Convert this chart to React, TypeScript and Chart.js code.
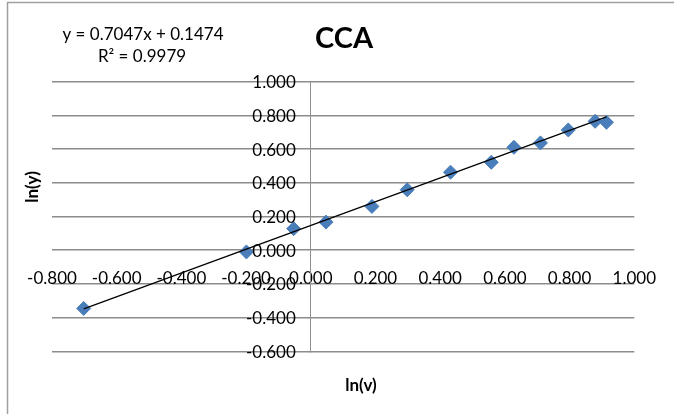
import React, { useEffect, useRef } from "react";
import { Chart, registerables } from "chart.js";

Chart.register(...registerables);

// ---- data ----
const lnV: number[] = [-0.702, -0.199, -0.053, 0.047, 0.189, 0.298, 0.432, 0.558, 0.628, 0.71, 0.796, 0.879, 0.914];
const lnY: number[] = [-0.345, -0.01, 0.128, 0.167, 0.26, 0.359, 0.463, 0.522, 0.611, 0.637, 0.714, 0.765, 0.759];

const TITLE = "CCA";
const X_TITLE = "ln(v)";
const Y_TITLE = "ln(y)";
const SLOPE = 0.7047;
const INTERCEPT = 0.1474;
const R2 = 0.9979;

const X_MIN = -0.8;
const X_MAX = 1.0;
const Y_MIN = -0.6;
const Y_MAX = 1.0;
const STEP = 0.2;

const FONT = "Lato";

const fmt = (v: any) => {
  const n = Number(v);
  return (Math.abs(n) < 1e-9 ? 0 : n).toFixed(3);
};

export default function App() {
  const ref = useRef<HTMLCanvasElement | null>(null);

  useEffect(() => {
    const canvas = ref.current;
    if (!canvas) return;

    const points = lnV.map((x, i) => ({ x, y: lnY[i] }));
    const xLo = Math.min(...lnV);
    const xHi = Math.max(...lnV);
    const trend = [
      { x: xLo, y: SLOPE * xLo + INTERCEPT },
      { x: xHi, y: SLOPE * xHi + INTERCEPT },
    ];

    const textPlugin = {
      id: "texts",
      beforeDraw(chart: any) {
        const ctx = chart.ctx;
        ctx.save();
        ctx.fillStyle = "#ffffff";
        ctx.fillRect(0, 0, chart.width, chart.height);
        ctx.strokeStyle = "#a0a0a0";
        ctx.lineWidth = 1.5;
        ctx.strokeRect(7.5, 2.5, 720, 520);
        ctx.restore();
      },
      afterDraw(chart: any) {
        const ctx = chart.ctx;
        const xs = chart.scales.x;
        const ys = chart.scales.y;
        ctx.save();
        ctx.fillStyle = "#000000";
        // y tick labels, placed beside the crossing axis
        ctx.font = `17px ${FONT}`;
        ctx.textAlign = "right";
        ctx.textBaseline = "middle";
        const axisX = xs.getPixelForValue(0);
        ys.ticks.forEach((t: any) => {
          ctx.fillText(fmt(t.value), axisX - 15, ys.getPixelForValue(t.value) + 1);
        });
        ctx.textAlign = "center";
        ctx.font = `bold 29px ${FONT}`;
        ctx.fillText(TITLE, 344, 39);
        ctx.font = `17px ${FONT}`;
        ctx.fillText(`y = ${SLOPE.toFixed(4)}x + ${INTERCEPT.toFixed(4)}`, 143, 35);
        ctx.fillText(`R² = ${R2.toFixed(4)}`, 142, 57);
        ctx.font = `bold 17px ${FONT}`;
        ctx.fillText(X_TITLE, 361, 386);
        ctx.translate(33, 187);
        ctx.rotate(-Math.PI / 2);
        ctx.fillText(Y_TITLE, 0, 0);
        ctx.restore();
      },
    };

    const chart = new Chart(canvas, {
      type: "scatter",
      data: {
        datasets: [
          {
            type: "line",
            label: "trend",
            data: trend,
            borderColor: "#000000",
            borderWidth: 1.3,
            pointRadius: 0,
            showLine: true,
            fill: false,
            order: 0,
          } as any,
          {
            label: "data",
            data: points,
            pointStyle: "rectRot",
            pointRadius: 7,
            backgroundColor: "#4a7ebb",
            borderColor: "#4a7ebb",
            borderWidth: 1,
            order: 1,
          },
        ],
      },
      options: {
        responsive: false,
        animation: false,
        devicePixelRatio: 1,
        layout: { padding: { left: 52, right: 25.7, top: 81.7, bottom: 62.6 } },
        plugins: {
          legend: { display: false },
          title: { display: false },
          tooltip: { enabled: false },
        },
        scales: {
          x: {
            type: "linear",
            position: { y: 0 } as any,
            min: X_MIN,
            max: X_MAX,
            grid: { display: false, drawTicks: false },
            border: { display: false },
            ticks: {
              stepSize: STEP,
              autoSkip: false,
              maxRotation: 0,
              padding: 18,
              color: "#000000",
              font: { family: FONT, size: 17 },
              callback: fmt,
            },
          },
          y: {
            type: "linear",
            position: { x: 0 } as any,
            min: Y_MIN,
            max: Y_MAX,
            grid: { color: "#8c8c8c", lineWidth: 1.6, drawTicks: false },
            border: { display: true, color: "#909090", width: 1 },
            ticks: {
              stepSize: STEP,
              autoSkip: false,
              display: false,
              callback: fmt,
            },
          },
        },
      },
      plugins: [textPlugin],
    });

    return () => chart.destroy();
  }, []);

  return (
    <div style={{ position: "fixed", left: 0, top: 0, width: 674, height: 414, background: "#fff" }}>
      <canvas ref={ref} width={674} height={414} style={{ display: "block", width: 674, height: 414 }} />
    </div>
  );
}
